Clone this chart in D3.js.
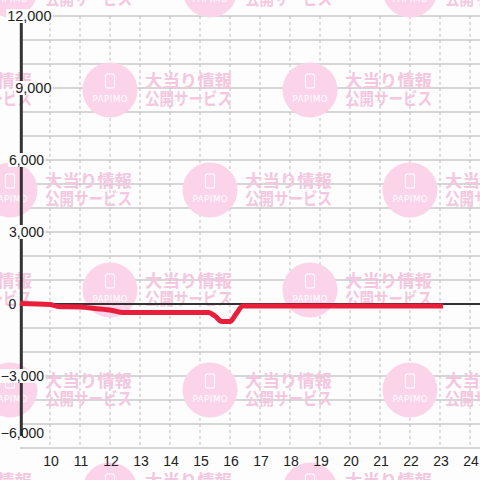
<!DOCTYPE html>
<html>
<head>
<meta charset="utf-8">
<script src="https://cdn.jsdelivr.net/npm/d3@7"></script>
<style>
  html, body { margin: 0; padding: 0; background: #fdfdfd; }
  svg { display: block; }
</style>
</head>
<body>
<svg id="chart" width="480" height="480"></svg>
<script>
// ---- data ----
const hours  = [9.0, 10.0, 10.27, 11.0, 11.5, 12.07, 12.43, 15.27, 15.5, 15.73, 16.0, 16.2, 16.43, 23.1];
const values = [20, -20, -105, -125, -190, -270, -355, -355, -500, -730, -730, -420, -85, -85];
const xTicks = [10, 11, 12, 13, 14, 15, 16, 17, 18, 19, 20, 21, 22, 23, 24];
const yTicks = [12000, 9000, 6000, 3000, 0, -3000, -6000];
const yGrid  = d3.range(-6000, 12001, 1000);
const wmLine1 = "大当り情報";
const wmLine2 = "公開サービス";
const wmLogo  = "PAPIMO";

// ---- layout ----
const W = 480, H = 480;
const BG = "#fdfdfd";
const svg = d3.select("#chart");
svg.append("rect").attr("width", W).attr("height", H).attr("fill", BG);

const x = d3.scaleLinear().domain([9, 24 + 1/3]).range([20, 480]);
const y = d3.scaleLinear().domain([-6000, 12000]).range([448, 16]);

// ---- grid ----
const grid = svg.append("g");
grid.selectAll("line.h").data(yGrid).join("line")
  .attr("x1", x(9)).attr("x2", W)
  .attr("y1", d => y(d)).attr("y2", d => y(d))
  .attr("stroke", "#c8c8c8").attr("stroke-width", 1.5);
grid.selectAll("line.v").data(xTicks).join("line")
  .attr("x1", d => x(d)).attr("x2", d => x(d))
  .attr("y1", y(12000)).attr("y2", y(-6000))
  .attr("stroke", "#bdbdbd").attr("stroke-width", 1)
  .attr("stroke-dasharray", "3,3");

// ---- watermark ----
const wm = svg.append("g");
const tiles = [];
for (let k = 0; k <= 5; k++) {
  const cy = -10 + 100 * k;
  const x0 = (k % 2 === 0) ? 10 : 110;
  for (let cx = x0 - 200; cx <= W + 50; cx += 200) tiles.push({cx, cy});
}
const tg = wm.selectAll("g").data(tiles).join("g")
  .attr("transform", d => `translate(${d.cx},${d.cy})`);
tg.append("circle").attr("r", 27.5).attr("fill", "#fbd4ea");
tg.append("rect").attr("x", -4.5).attr("y", -16).attr("width", 9).attr("height", 14)
  .attr("rx", 1.5).attr("fill", "none").attr("stroke", "#ffffff").attr("stroke-width", 1.1);
tg.append("text").text(wmLogo)
  .attr("x", 0).attr("y", 12).attr("text-anchor", "middle")
  .attr("textLength", 35).attr("lengthAdjust", "spacing")
  .attr("font-family", "DejaVu Sans, sans-serif").attr("font-size", 8.5)
  .attr("fill", "#ffffff");
tg.append("text").text(wmLine1)
  .attr("x", 35).attr("y", -3)
  .attr("textLength", 87).attr("lengthAdjust", "spacingAndGlyphs")
  .attr("font-family", "Noto Sans CJK JP").attr("font-size", 17).attr("font-weight", "bold")
  .attr("fill", "#f4c6df");
tg.append("text").text(wmLine2)
  .attr("x", 35).attr("y", 15)
  .attr("textLength", 87).attr("lengthAdjust", "spacingAndGlyphs")
  .attr("font-family", "Noto Sans CJK JP").attr("font-size", 17).attr("font-weight", "bold")
  .attr("fill", "#f4c6df");

// ---- zero line & y axis line ----
svg.append("line")
  .attr("x1", x(9)).attr("x2", W).attr("y1", y(0)).attr("y2", y(0))
  .attr("stroke", "#333").attr("stroke-width", 2);
svg.append("line")
  .attr("x1", 21.3).attr("x2", 21.3).attr("y1", y(12000)).attr("y2", 436)
  .attr("stroke", "#333").attr("stroke-width", 3);

// ---- series line ----
const pts = hours.map((h, i) => [h, values[i]]);
svg.append("path").datum(pts)
  .attr("d", d3.line().x(d => x(d[0])).y(d => y(d[1])).curve(d3.curveMonotoneX))
  .attr("fill", "none").attr("stroke", "#e81f3b").attr("stroke-width", 5)
  .attr("stroke-linejoin", "round");

// ---- y labels ----
const yl = svg.append("g");
yTicks.forEach(v => {
  const big = v >= 9000;
  const clamped = y(v) > 436;
  const ly = clamped ? 433 : y(v);
  let anchor = "end", lx = big ? 51.5 : 44;
  if (v === 0) { anchor = "middle"; lx = 12.5; }
  const g = yl.append("g");
  const t = g.append("text").text(d3.format(",")(v))
    .attr("x", lx).attr("y", ly).attr("dy", "0.36em")
    .attr("text-anchor", anchor)
    .attr("font-family", "Liberation Sans, Arial, sans-serif")
    .attr("font-size", big ? 14.5 : 14).attr("fill", "#222");
  if (!clamped && v !== 0) {
    const b = t.node().getBBox();
    g.insert("rect", "text").attr("x", b.x - 1).attr("y", ly - 7)
      .attr("width", b.width + 2).attr("height", 14).attr("fill", BG);
  }
});

// ---- x labels ----
svg.append("g").selectAll("text").data(xTicks).join("text")
  .text(d => d)
  .attr("x", d => x(d) + 1).attr("y", 466)
  .attr("text-anchor", "middle")
  .attr("font-family", "Liberation Sans, Arial, sans-serif")
  .attr("font-size", 14).attr("fill", "#222");
</script>
</body>
</html>
